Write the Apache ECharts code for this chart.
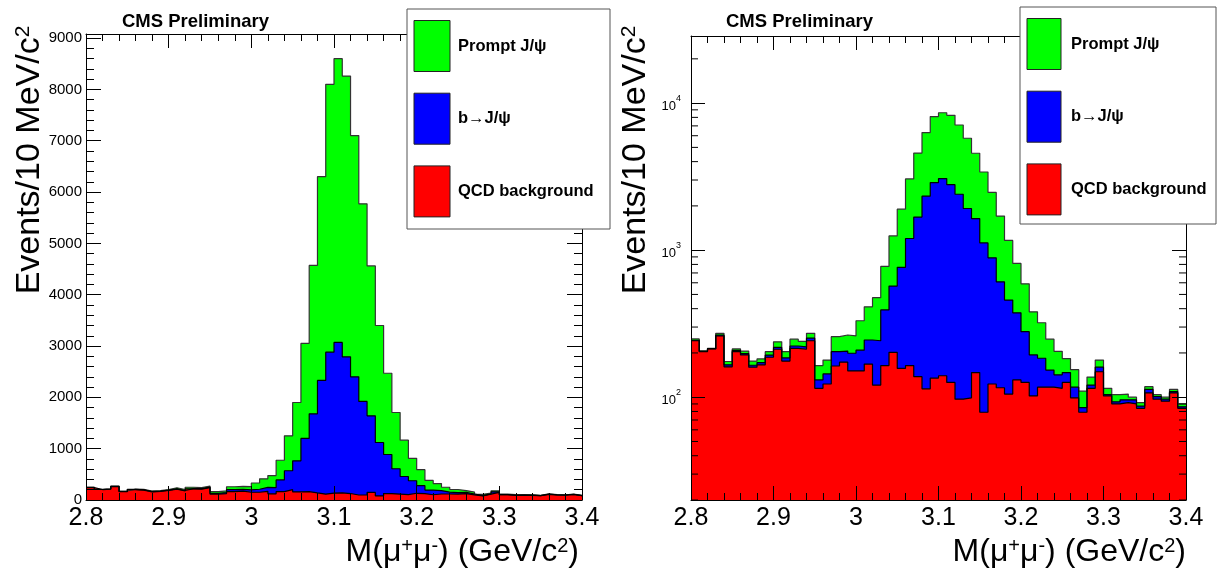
<!DOCTYPE html>
<html>
<head>
<meta charset="utf-8">
<script src="https://cdn.jsdelivr.net/npm/echarts@6.0.0/dist/echarts.min.js"></script>
<style>
  html, body { margin: 0; padding: 0; background: #fff; }
  #chart { width: 1217px; height: 571px; }
</style>
</head>
<body>
<div id="chart"></div>
<script>
// dimuon mass, 60 bins of 10 MeV between 2.8 and 3.4 GeV/c^2
const massMin = 2.8;
const massMax = 3.4;
const binWidth = 0.01;

const qcdBackground = [
  242, 204, 213, 261, 161, 204, 194, 160, 166, 187,
  212, 176, 215, 212, 242, 115, 123, 163, 173, 151,
  151, 168, 121, 164, 202, 157, 164, 138, 114, 135,
  140, 126, 97, 99, 147, 79, 123, 116, 105, 131,
  126, 102, 117, 117, 115, 126, 99, 79, 115, 149,
  102, 90, 92, 90, 84, 107, 97, 94, 107, 84
];
const bToJpsi = [
  2, 1, 1, 4, 5, 4, 4, 5, 6, 6,
  6, 9, 8, 8, 10, 16, 21, 41, 33, 48,
  58, 77, 121, 228, 368, 607, 1036, 1542, 2216, 2745,
  2930, 2664, 2303, 1821, 1493, 1041, 764, 493, 353, 244,
  153, 92, 67, 36, 27, 21, 18, 6, 6, 11,
  2, 3, 4, 6, 3, 6, 4, 3, 2, 2
];
const promptJpsi = [
  5, 2, 1, 7, 9, 5, 8, 11, 10, 11,
  20, 19, 25, 20, 20, 33, 35, 54, 59, 62,
  122, 167, 233, 383, 680, 1136, 1850, 2890, 3970, 5220,
  5530, 5470, 4700, 3850, 2920, 2280, 1583, 1096, 707, 437,
  311, 187, 137, 95, 63, 36, 37, 25, 16, 19,
  11, 11, 9, 4, 5, 5, 3, 3, 4, 4
];

const legendNames = ['Prompt J/\u03c8', 'b\u2192J/\u03c8', 'QCD background'];
const legendColors = ['#00ff00', '#0000ff', '#ff0000'];

const linearMax = 9080;
const logMin = 20;
const logMax = 28600;
const logMinorTicks = [20, 30, 40, 50, 60, 70, 80, 90, 200, 300, 400, 500, 600, 700, 800, 900,
  2000, 3000, 4000, 5000, 6000, 7000, 8000, 9000, 20000];

const font = "'Liberation Sans', Arial, Helvetica, sans-serif";
const tickColor = '#000';

// stacked tops (red, red+blue, red+blue+green)
const topRed = qcdBackground.slice();
const topBlue = qcdBackground.map((v, i) => v + bToJpsi[i]);
const topGreen = topBlue.map((v, i) => v + promptJpsi[i]);

function toSteps(values) {
  const pts = values.map((v, i) => [+(massMin + i * binWidth).toFixed(2), v]);
  pts.push([massMax, values[values.length - 1]]);
  return pts;
}

function histSeries(name, values, color, axisIndex, lineColor) {
  return {
    name: name,
    type: 'line',
    xAxisIndex: axisIndex,
    yAxisIndex: axisIndex,
    data: toSteps(values),
    step: 'end',
    symbol: 'none',
    silent: true,
    lineStyle: { color: lineColor || '#000', width: 1.2 },
    areaStyle: { color: color, opacity: 1, origin: 'start' }
  };
}

const axisLine = { show: true, onZero: false, lineStyle: { color: '#000', width: 1 } };

function massAxes(gridIndex) {
  const common = {
    type: 'value',
    gridIndex: gridIndex,
    min: massMin,
    max: massMax,
    interval: 0.1,
    z: 10,
    splitLine: { show: false },
    axisLine: axisLine,
    axisTick: { show: true, inside: true, length: 14, lineStyle: { color: tickColor, width: 1 } },
    minorTick: { show: true, splitNumber: 5, length: 7, lineStyle: { color: tickColor, width: 1 } }
  };
  return [
    Object.assign({}, common, {
      position: 'bottom',
      axisLabel: { show: true, fontSize: 25, color: '#000', margin: 6, fontFamily: font }
    }),
    Object.assign({}, common, { position: 'top', axisLabel: { show: false } })
  ];
}

const countAxisCommon = {
  type: 'value',
  gridIndex: 0,
  min: 0,
  max: linearMax,
  interval: 1000,
  z: 10,
  splitLine: { show: false },
  axisLine: axisLine,
  axisTick: { show: true, inside: true, length: 15, lineStyle: { color: tickColor, width: 1 } },
  minorTick: { show: true, splitNumber: 5, length: 8, lineStyle: { color: tickColor, width: 1 } }
};

const logAxisCommon = {
  type: 'log',
  logBase: 10,
  gridIndex: 1,
  min: logMin,
  max: logMax,
  z: 10,
  splitLine: { show: false },
  axisLine: axisLine,
  axisTick: { show: true, inside: true, length: 14, lineStyle: { color: tickColor, width: 1 } },
  minorTick: { show: false }
};

function isDecade(v) {
  const e = Math.round(Math.log10(v));
  return Math.abs(Math.pow(10, e) - v) < 1e-6 * v;
}

const supRich = {
  n: { fontSize: 32, fontFamily: font, color: '#000' },
  s: { fontSize: 20, fontFamily: font, color: '#000', verticalAlign: 'top' }
};
const yTitleRich = {
  n: { fontSize: 34, fontFamily: font, color: '#000' },
  s: { fontSize: 21, fontFamily: font, color: '#000', verticalAlign: 'top' }
};

function legendGraphics(x, y, w, h, swW) {
  const items = [{
    type: 'rect', z: 100,
    shape: { x: x, y: y, width: w, height: h },
    style: { fill: '#fff', stroke: '#555', lineWidth: 1 }
  }];
  legendNames.forEach((name, i) => {
    const top = y + 11.5 + i * 72.7;
    items.push({
      type: 'rect', z: 101,
      shape: { x: x + 7, y: top, width: swW, height: 51 },
      style: { fill: legendColors[i], stroke: '#222', lineWidth: 1 }
    });
    items.push({
      type: 'text', z: 101, x: x + 51, y: top + 25.5,
      style: { text: name, fontSize: 16.5, fontWeight: 'bold', fontFamily: font, fill: '#000',
        align: 'left', verticalAlign: 'middle' }
    });
  });
  return items;
}

function titleGraphics(x0, yTitleX, xTitleRight) {
  return [
    {
      type: 'text', x: x0, y: 22, z: 50,
      style: { text: 'CMS Preliminary', fontSize: 18.5, fontWeight: 'bold', fontFamily: font,
        fill: '#000', align: 'left', verticalAlign: 'middle' }
    },
    {
      type: 'text', x: yTitleX, y: 160, rotation: Math.PI / 2, z: 50,
      style: { text: '{n|Events/10 MeV/c}{s|2}', rich: yTitleRich, align: 'center', verticalAlign: 'middle' }
    },
    {
      type: 'text', x: xTitleRight, y: 552, z: 50,
      style: { text: '{n|M(\u03bc}{s|+}{n|\u03bc}{s|-}{n|) (GeV/c}{s|2}{n|)}', rich: supRich,
        align: 'right', verticalAlign: 'middle' }
    }
  ];
}

const chart = echarts.init(document.getElementById('chart'), null, { renderer: 'canvas' });

chart.setOption({
  animation: false,
  backgroundColor: '#fff',
  grid: [
    { left: 86, top: 34, width: 496, height: 466 },
    { left: 691, top: 36, width: 495, height: 464 }
  ],
  xAxis: massAxes(0).concat(massAxes(1)),
  yAxis: [
    Object.assign({}, countAxisCommon, {
      position: 'left',
      axisLabel: { show: true, fontSize: 15, color: '#000', margin: 4, fontFamily: font,
        formatter: v => (v % 1000 === 0 ? String(v) : '') }
    }),
    Object.assign({}, countAxisCommon, { position: 'right', axisLabel: { show: false } }),
    Object.assign({}, logAxisCommon, {
      position: 'left',
      axisLabel: {
        show: true, margin: 10, color: '#000',
        formatter: v => (isDecade(v) ? '{b|10}{s|' + Math.round(Math.log10(v)) + '}' : ''),
        rich: {
          b: { fontSize: 13, fontFamily: font, color: '#000', padding: [6, 0, 0, 0] },
          s: { fontSize: 9, fontFamily: font, color: '#000', verticalAlign: 'top' }
        }
      }
    }),
    Object.assign({}, logAxisCommon, { position: 'right', axisLabel: { show: false } })
  ],
  series: [
    histSeries('Prompt J/\u03c8', topGreen, '#00ff00', 0, '#333'),
    histSeries('b\u2192J/\u03c8', topBlue, '#0000ff', 0),
    histSeries('QCD background', topRed, '#ff0000', 0),
    histSeries('Prompt J/\u03c8', topGreen, '#00ff00', 2, '#333'),
    histSeries('b\u2192J/\u03c8', topBlue, '#0000ff', 2),
    histSeries('QCD background', topRed, '#ff0000', 2),
    {
      // log-axis minor ticks (2..9 x 10^n) on both sides of the right frame
      type: 'custom',
      xAxisIndex: 2,
      yAxisIndex: 2,
      silent: true,
      z: 5,
      data: logMinorTicks.map(v => [massMin, v]),
      renderItem: function (params, api) {
        const v = api.value(1);
        const l = api.coord([massMin, v]);
        const r = api.coord([massMax, v]);
        return {
          type: 'group',
          children: [
            { type: 'line', shape: { x1: l[0], y1: l[1], x2: l[0] + 7, y2: l[1] }, style: { stroke: tickColor, lineWidth: 1 } },
            { type: 'line', shape: { x1: r[0] - 7, y1: r[1], x2: r[0], y2: r[1] }, style: { stroke: tickColor, lineWidth: 1 } }
          ]
        };
      }
    }
  ],
  graphic: titleGraphics(122, 30, 579)
    .concat(titleGraphics(726, 636, 1186))
    .concat(legendGraphics(407, 9, 203, 220, 36))
    .concat(legendGraphics(1020, 7, 196, 217, 34))
});
</script>
</body>
</html>
